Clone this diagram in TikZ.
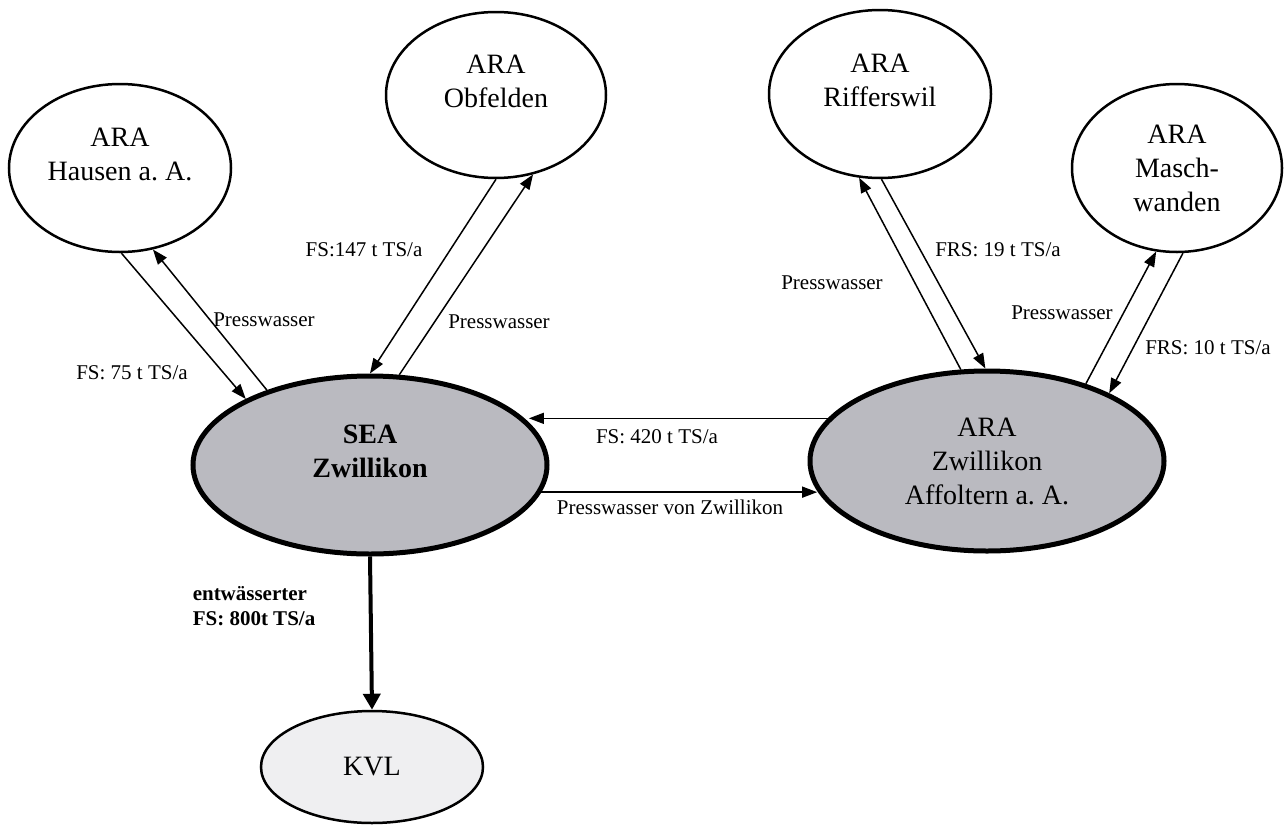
\documentclass[tikz,border=0pt]{standalone}
\usepackage{fontspec}
\setmainfont{Liberation Serif}
\usepackage{tikz}
\usetikzlibrary{shapes.geometric,arrows.meta}
\definecolor{grau}{RGB}{186,186,192}
\definecolor{hellgrau}{RGB}{239,239,241}
\newcommand{\gross}{\fontsize{28}{34}\selectfont}
\newcommand{\klein}{\fontsize{21}{25}\selectfont}

\begin{document}
\begin{tikzpicture}[x=1pt, y=-1pt, line width=1.5pt,
    anlage/.style={ellipse, draw, line width=2.5pt, fill=white, align=center, font=\gross, inner sep=0pt},
    zentrum/.style={anlage, line width=5pt, fill=grau},
    hochtext/.style={text depth=28pt},
    beschr/.style={font=\klein, inner sep=0pt},
    fluss/.style={-{Triangle[length=15pt, width=11pt]}}]
    \useasboundingbox (0,0) rectangle (1285,825);

    % Anlagen.
    \draw node[anlage, hochtext, minimum width=222, minimum height=168] (haus) at (120,168) {ARA\\Hausen a.~A.};
    \draw node[anlage, hochtext, minimum width=220, minimum height=166] (obf) at (496,95) {ARA\\Obfelden};
    \draw node[anlage, hochtext, minimum width=222, minimum height=168] (riff) at (880,94) {ARA\\Rifferswil};
    \draw node[anlage, minimum width=210, minimum height=168] (masch) at (1177,168) {ARA\\Masch-\\wanden};
    \draw node[zentrum, hochtext, minimum width=354, minimum height=178, font=\gross\bfseries] (sea) at (370,465) {SEA\\Zwillikon};
    \draw node[zentrum, minimum width=354, minimum height=180] (ara) at (987,461) {ARA\\Zwillikon\\Affoltern a.~A.};
    \draw node[anlage, fill=hellgrau, minimum width=222, minimum height=112] (kvl) at (372,767) {KVL};

    % Pfeile.
    \draw[fluss] (haus.-89) -- (sea.152);
    \draw[fluss] (sea.144) -- (haus.-68);
    \draw[fluss] (obf.-90) -- (sea.90);
    \draw[fluss] (sea.72) -- (obf.-65);
    \draw[fluss] (ara.106) -- (riff.-104);
    \draw[fluss] (riff.-89) -- (ara.91);
    \draw[fluss] (ara.38) -- (masch.-104);
    \draw[fluss] (masch.-86) -- (ara.29);
    \draw[fluss] (ara.165) -- (ara.165 -| sea.15);
    \draw[fluss] (sea.-9) -- (sea.-9 -| ara.190);
    \draw[line width=4pt, -{Triangle[length=16pt, width=17pt]}] (sea.south) -- (kvl.north);

    % Beschriftung der Pfeile.
    \draw node[beschr] (pwhaus) at (264,320) {Presswasser};
    \draw node[beschr] (fshaus) at (132,373) {FS: 75 t TS/a};
    \draw node[beschr] (fsobf) at (364,250) {FS:147 t TS/a};
    \draw node[beschr] (pwobf) at (499,322) {Presswasser};
    \draw node[beschr] (pwriff) at (832,283) {Presswasser};
    \draw node[beschr] (frsriff) at (998,250) {FRS: 19 t TS/a};
    \draw node[beschr] (pwmasch) at (1062,313) {Presswasser};
    \draw node[beschr] (frsmasch) at (1208,348) {FRS: 10 t TS/a};
    \draw node[beschr] (fsara) at (657,437) {FS: 420 t TS/a};
    \draw node[beschr] (pwsea) at (670,507) {Presswasser von Zwillikon};
    \draw node[beschr, font=\klein\bfseries, align=left, anchor=west] (entw) at (192,606) {entwässerter\\FS: 800t TS/a};
\end{tikzpicture}
\end{document}
